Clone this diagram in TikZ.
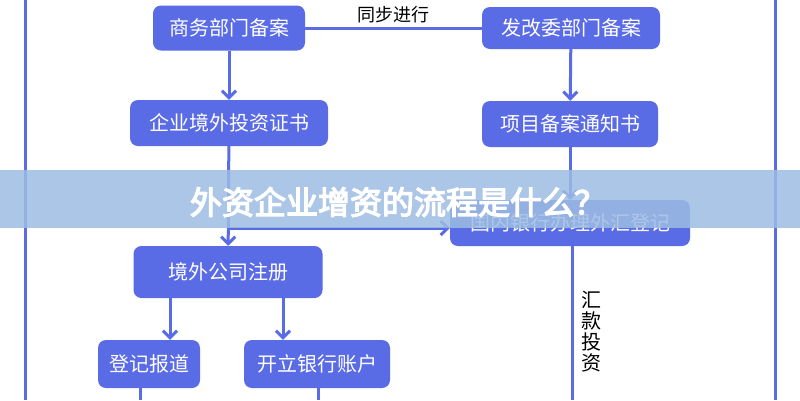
\documentclass[tikz,border=0pt]{standalone}
\usepackage{fontspec}
\setmainfont{Noto Sans CJK SC}
\newfontfamily\cjkb[FakeBold=4]{Noto Sans CJK SC}
\usetikzlibrary{arrows.meta}
\definecolor{bx}{HTML}{5A6BE6}
\definecolor{ln}{HTML}{5A6BE6}
\definecolor{band}{HTML}{9DBDE3}
\begin{document}
\begin{tikzpicture}[x=1pt,y=-1pt,
  box/.style={fill=bx,rounded corners=8pt,text=white,font=\fontsize{20}{20}\selectfont,inner sep=0pt},
  con/.style={draw=ln,line width=3pt},
  arr/.style={con,-{Straight Barb[length=7pt,width=14pt,line width=3pt]}}]
\useasboundingbox (0,0) rectangle (800,400);
\fill[white] (0,0) rectangle (800,400);
\draw[con] (25,0) -- (25,400);
\draw[con] (775,0) -- (775,400);
\node[box,minimum width=152pt,minimum height=45pt] (a) at (229,28) {商务部门备案};
\node[box,minimum width=178pt,minimum height=42pt] (b) at (571,28) {发改委部门备案};
\node[box,minimum width=198pt,minimum height=46pt] (c) at (229,123) {企业境外投资证书};
\node[box,minimum width=176pt,minimum height=46pt] (d) at (570,124) {项目备案通知书};
\node[box,minimum width=240pt,minimum height=46pt] (e) at (570,223) {国内银行办理外汇登记};
\node[box,minimum width=189pt,minimum height=52pt] (f) at (228,272) {境外公司注册};
\node[box,minimum width=102pt,minimum height=48pt] (g) at (149,364) {登记报道};
\node[box,minimum width=146pt,minimum height=48pt] (h) at (317,364) {开立银行账户};
\coordinate (gb) at (140,400);
\coordinate (hb) at (318,400);
\coordinate (eb) at (572,400);
\coordinate (j) at (229,228);
\draw[con] (a) -- node[above=0pt,text=black,font=\fontsize{18}{18}\selectfont]{同步进行} (b);
\draw[arr] (a) -- (c);
\draw[arr] (b) -- (d);
\draw[arr] (d) -- (e);
\draw[arr] (c) -- (f);
\draw[arr] (j) -- (e.west|-j);
\draw[arr] (f.south-|170,0) -- (g.north-|170,0);
\draw[arr] (f.south-|283,0) -- (h.north-|283,0);
\draw[con] (g.south-|gb) -- (gb);
\draw[con] (h.south-|hb) -- (hb);
\draw[con] (e.south-|eb) -- (eb);
\node[font=\fontsize{20}{21}\selectfont,align=center] (k) at (591,332) {汇\\款\\投\\资};
\fill[band,opacity=0.85] (0,170) rectangle (800,228);
\node[text=white,font=\cjkb\fontsize{32}{32}\selectfont] (t) at (398,202) {外资企业增资的流程是什么？};
\end{tikzpicture}
\end{document}
